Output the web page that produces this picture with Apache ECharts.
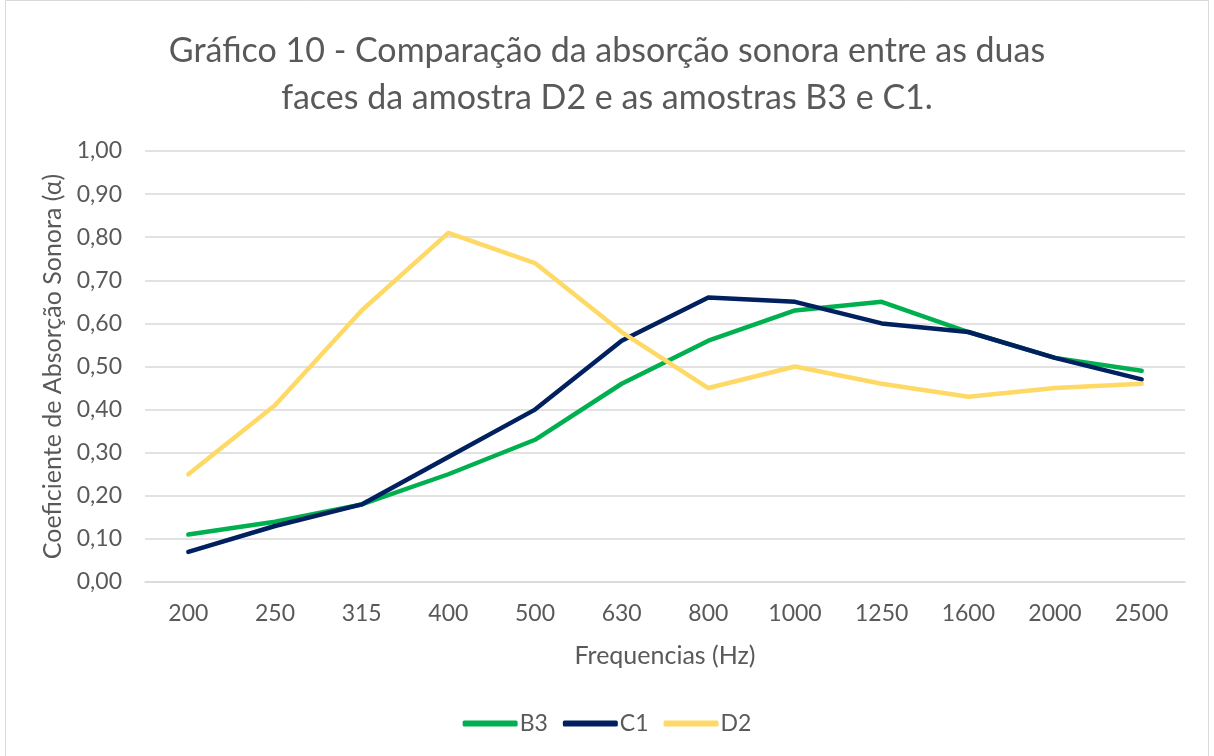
<!DOCTYPE html>
<html>
<head>
<meta charset="utf-8">
<script src="https://cdn.jsdelivr.net/npm/echarts@6/dist/echarts.min.js"></script>
<style>
  html, body { margin: 0; padding: 0; background: #fff; }
  #chart { width: 1214px; height: 756px; }
</style>
</head>
<body>
<div id="chart"></div>
<script>
// frequencias (Hz)
const categories = ['200', '250', '315', '400', '500', '630', '800', '1000', '1250', '1600', '2000', '2500']
// coeficiente de absorção
const b3 = [0.11, 0.14, 0.18, 0.25, 0.33, 0.46, 0.56, 0.63, 0.65, 0.58, 0.52, 0.49]
const c1 = [0.07, 0.13, 0.18, 0.29, 0.40, 0.56, 0.66, 0.65, 0.60, 0.58, 0.52, 0.47]
const d2 = [0.25, 0.41, 0.63, 0.81, 0.74, 0.58, 0.45, 0.50, 0.46, 0.43, 0.45, 0.46]

const font = 'Lato, "Open Sans", sans-serif'
const grey = '#595959'

const chart = echarts.init(document.getElementById('chart'))

function serie (name, color, data) {
  return {
    name: name,
    type: 'line',
    data: data,
    symbol: 'none',
    color: color,
    lineStyle: { width: 4.5, color: color, cap: 'round', join: 'round' }
  }
}

chart.setOption({
  backgroundColor: '#fff',
  animation: false,
  textStyle: { fontFamily: font },
  title: {
    text: 'Gráfico 10 - Comparação da absorção sonora entre as duas\nfaces da amostra D2 e as amostras B3 e C1.',
    left: 'center',
    top: 23,
    textStyle: { fontFamily: font, fontSize: 34, fontWeight: 'normal', color: grey, lineHeight: 47, align: 'center' }
  },
  graphic: [{
    type: 'rect',
    shape: { x: 5.5, y: 0.5, width: 1203, height: 760 },
    style: { fill: 'none', stroke: '#d9d9d9', lineWidth: 1 },
    silent: true
  }],
  grid: { left: 145, right: 29, top: 151, bottom: 174 },
  legend: {
    bottom: 16,
    left: 'center',
    itemWidth: 55,
    itemHeight: 6,
    itemGap: 15,
    icon: 'roundRect',
    textStyle: { fontFamily: font, fontSize: 23, color: grey, padding: [0, 0, 0, -3] },
    data: ['B3', 'C1', 'D2']
  },
  xAxis: {
    type: 'category',
    data: categories,
    boundaryGap: true,
    name: 'Frequencias (Hz)',
    nameLocation: 'middle',
    nameGap: 61,
    nameTextStyle: { fontFamily: font, fontSize: 25, color: grey },
    axisLine: { show: true, lineStyle: { color: '#d9d9d9', width: 1.5 } },
    axisTick: { show: false },
    axisLabel: { fontFamily: font, fontSize: 23, color: grey, margin: 20 }
  },
  yAxis: {
    type: 'value',
    min: 0,
    max: 1,
    interval: 0.1,
    name: 'Coeficiente de Absorção Sonora (α)',
    nameLocation: 'middle',
    nameGap: 70,
    nameTextStyle: { fontFamily: font, fontSize: 25, color: grey },
    axisLine: { show: false },
    axisTick: { show: false },
    splitLine: { lineStyle: { color: '#d9d9d9', width: 1.5 } },
    axisLabel: {
      fontFamily: font,
      fontSize: 23,
      color: grey,
      margin: 23,
      formatter: function (v) { return v.toFixed(2).replace('.', ',') }
    }
  },
  series: [
    serie('B3', '#00B050', b3),
    serie('C1', '#002060', c1),
    serie('D2', '#FFD966', d2)
  ]
})
</script>
</body>
</html>
